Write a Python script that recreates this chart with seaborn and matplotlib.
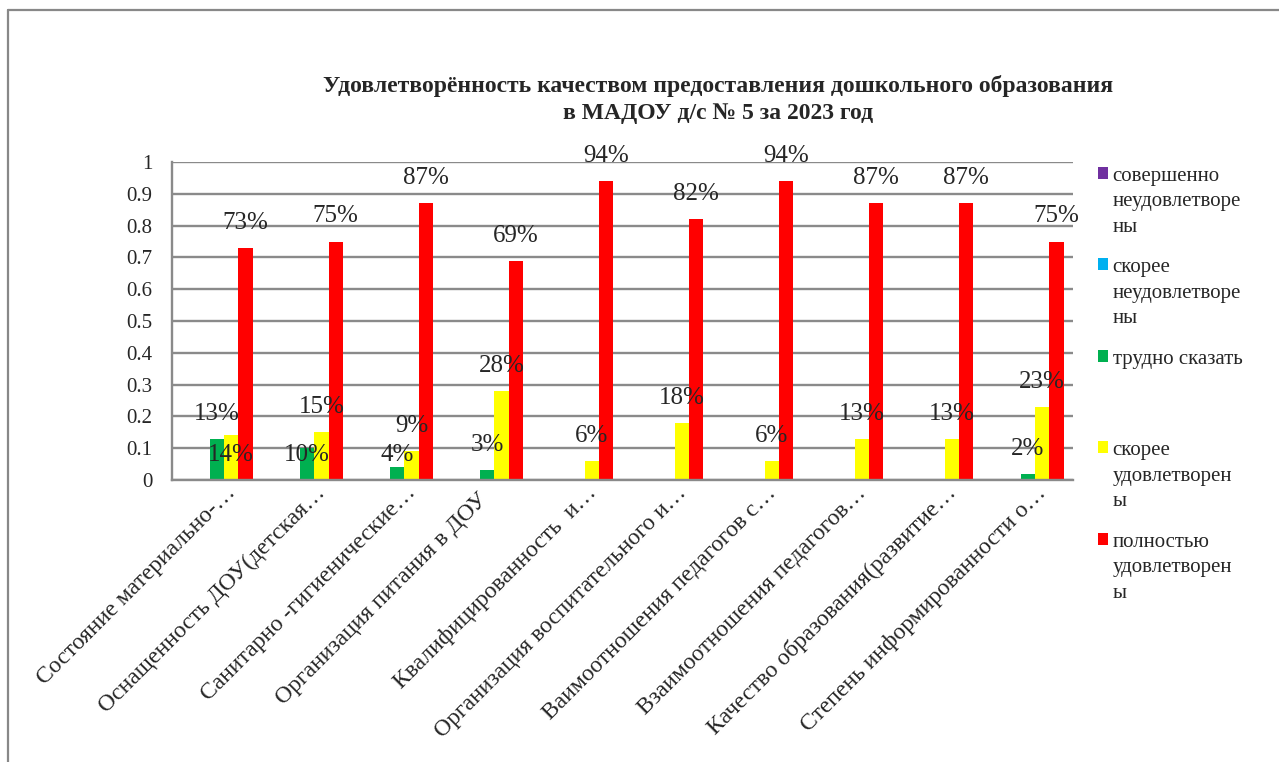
import pandas as pd
import seaborn as sns
import matplotlib.pyplot as plt
from matplotlib.patches import Patch
from matplotlib.lines import Line2D
from matplotlib.transforms import ScaledTranslation

# категории (подписи оси X, как в исходной диаграмме — обрезанные)
categories = [
    "Состояние материально-…",
    "Оснащенность ДОУ(детская…",
    "Санитарно -гигиенические…",
    "Организация питания в ДОУ",
    "Квалифицированность  и…",
    "Организация воспитательного и…",
    "Ваимоотношения педагогов с…",
    "Взаимоотношения педагогов…",
    "Качество образования(развитие…",
    "Степень информированности о…",
]

series = [
    "совершенно\nнеудовлетворе\nны",
    "скорее\nнеудовлетворе\nны",
    "трудно сказать\n\n",
    "скорее\nудовлетворен\nы",
    "полностью\nудовлетворен\nы",
]
colors = ["#7030A0", "#00B0F0", "#00B050", "#FFFF00", "#FF0000"]

sovsem_neud = [0, 0, 0, 0, 0, 0, 0, 0, 0, 0]
skoree_neud = [0, 0, 0, 0, 0, 0, 0, 0, 0, 0]
trudno = [0.13, 0.10, 0.04, 0.03, 0, 0, 0, 0, 0, 0.02]
skoree_ud = [0.14, 0.15, 0.09, 0.28, 0.06, 0.18, 0.06, 0.13, 0.13, 0.23]
polnostyu = [0.73, 0.75, 0.87, 0.69, 0.94, 0.82, 0.94, 0.87, 0.87, 0.75]

values = [sovsem_neud, skoree_neud, trudno, skoree_ud, polnostyu]

# подписи, которые в оригинале сдвинуты вручную (смещение в пунктах)
label_shift = {(3, 0): -14, (2, 1): -5, (2, 2): 9}

rows = []
for s, vals in zip(series, values):
    for c, v in zip(categories, vals):
        rows.append({"cat": c, "series": s, "val": v})
df = pd.DataFrame(rows)

sns.set_style("white")
plt.rcParams["font.family"] = ["Liberation Serif", "DejaVu Serif"]

fig = plt.figure(figsize=(12.79, 7.62), dpi=100)
ax = fig.add_axes([172 / 1279, 1 - 480 / 762, (1073 - 172) / 1279, (480 - 162) / 762])

sns.barplot(data=df, x="cat", y="val", hue="series", hue_order=series,
            order=categories, palette=colors, saturation=1, width=0.79,
            linewidth=0, legend=False, ax=ax)

ax.set_ylim(0, 1)
ax.set_yticks([i / 10 for i in range(11)])
ax.set_yticklabels([f"{i / 10:g}" for i in range(11)], fontsize=15)
ax.tick_params(axis="y", length=0, pad=14)
ax.tick_params(axis="x", length=0, pad=0)
ax.set_xticks(range(len(categories)))
ax.set_xticklabels(categories, rotation=45, ha="right", va="baseline",
                   rotation_mode="anchor", fontsize=17)
# Excel сдвигает обрезанные подписи иначе, чем полные
for lab in ax.get_xticklabels():
    if lab.get_text().endswith("…"):
        dx, dy = 14, -10
    else:
        dx, dy = 1, -15
    lab.set_transform(lab.get_transform() + ScaledTranslation(dx / 72, dy / 72, fig.dpi_scale_trans))
ax.set_xlabel("")
ax.set_ylabel("")
ax.yaxis.grid(True, color="#8a8a8a", linewidth=1.7)
ax.set_axisbelow(True)
for side in ["top", "right"]:
    ax.spines[side].set_visible(False)
for side in ["left", "bottom"]:
    ax.spines[side].set_color("#8a8a8a")
    ax.spines[side].set_linewidth(1.7)

# подписи данных
for si, cont in enumerate(ax.containers):
    for ci, bar in enumerate(cont):
        v = values[si][ci]
        if v == 0:
            continue
        off = label_shift.get((si, ci), 18)
        ax.annotate(f"{v:.0%}", (bar.get_x() + bar.get_width() / 2, v),
                    xytext=(0, off), textcoords="offset points",
                    ha="center", va="center", fontsize=18)

fig.text(718 / 1279, 1 - 99.5 / 762,
         "Удовлетворённость качеством предоставления дошкольного образования\n"
         "в МАДОУ д/с № 5 за 2023 год",
         ha="center", va="center", fontsize=17, fontweight="bold", linespacing=1.38)

handles = [Patch(facecolor=c, edgecolor="none") for c in colors]
leg = fig.legend(handles, series, loc="upper left",
                 bbox_to_anchor=(1098 / 1279, 1 - 167 / 762),
                 frameon=False, fontsize=15, borderpad=0, borderaxespad=0,
                 handlelength=0.48, handleheight=0.48, handletextpad=0.22,
                 labelspacing=1.05)
for t in leg.get_texts():
    t.set_linespacing(1.45)
for col in leg._legend_handle_box.get_children():
    for item in col.get_children():
        item.align = "top"

# рамка области диаграммы (видны только верх и левый край)
fig.add_artist(Line2D([7.5 / 1279, 1], [1 - 9.5 / 762, 1 - 9.5 / 762],
                      transform=fig.transFigure, color="#888888", linewidth=1.6))
fig.add_artist(Line2D([7.5 / 1279, 7.5 / 1279], [0, 1 - 9.5 / 762],
                      transform=fig.transFigure, color="#888888", linewidth=1.6))

fig.savefig("out.png", dpi=100)
